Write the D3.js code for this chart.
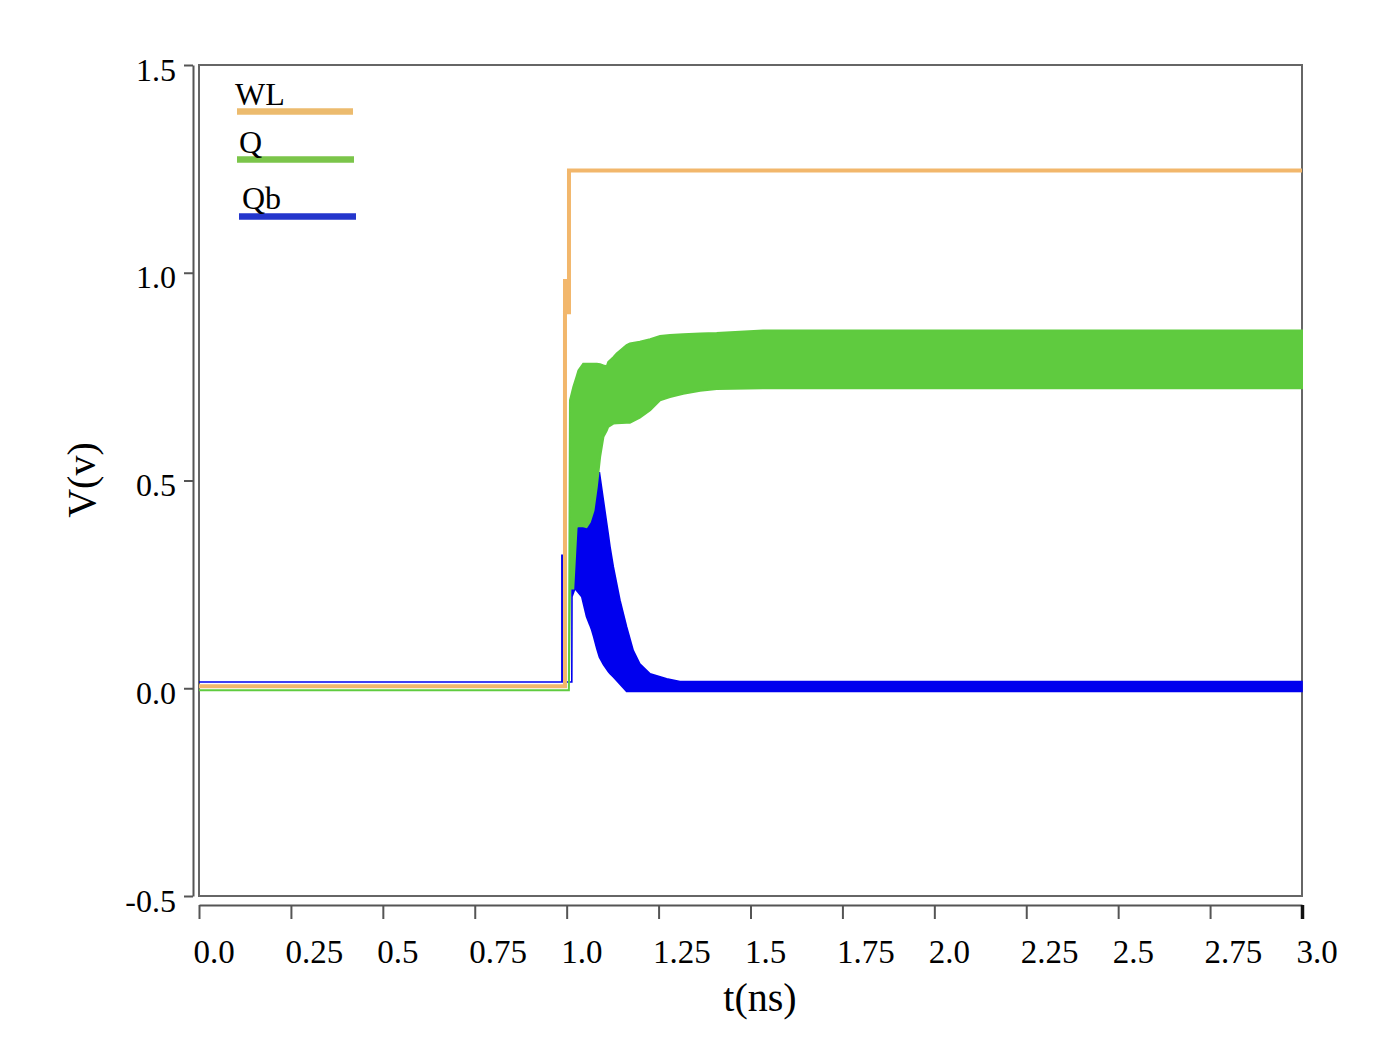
<!DOCTYPE html>
<html>
<head>
<meta charset="utf-8">
<script src="https://cdn.jsdelivr.net/npm/d3@7/dist/d3.min.js"></script>
<style>
  html, body { margin: 0; padding: 0; background: #fff; }
  svg { display: block; }
  text { font-family: "Liberation Serif", "Times New Roman", serif; fill: #000; }
</style>
</head>
<body>
<svg id="chart" width="1398" height="1060"></svg>
<script>
// ---------- data ----------
const xTickValues = [0, 0.25, 0.5, 0.75, 1.0, 1.25, 1.5, 1.75, 2.0, 2.25, 2.5, 2.75, 3.0];
const xTickLabels = ["0.0", "0.25", "0.5", "0.75", "1.0", "1.25", "1.5", "1.75", "2.0", "2.25", "2.5", "2.75", "3.0"];
const yTickValues = [-0.5, 0, 0.5, 1.0, 1.5];
const yTickLabels = ["-0.5", "0.0", "0.5", "1.0", "1.5"];
const seriesNames = ["WL", "Q", "Qb"];

// WL (word line) waveform
const tWL = [0, 0.9954, 0.9954, 0.9954, 1.0063, 1.0063, 3.0];
const vWL = [0.005, 0.005, 0.985, 0.905, 0.905, 1.246, 1.246];

// Q: envelope (lower / upper) of the fast-oscillating node voltage
const tQ = [0, 1.006, 1.009, 1.018, 1.027, 1.032, 1.045, 1.054, 1.063, 1.073, 1.082, 1.091, 1.100, 1.109, 1.113, 1.127, 1.136, 1.163, 1.172, 1.199, 1.227, 1.254, 1.281, 1.317, 1.363, 1.408, 1.534, 3.0];
const qLow = [-0.005, -0.005, 0.24, 0.24, 0.388, 0.39, 0.39, 0.388, 0.40, 0.428, 0.485, 0.557, 0.605, 0.62, 0.629, 0.637, 0.638, 0.639, 0.639, 0.651, 0.669, 0.693, 0.701, 0.709, 0.716, 0.72, 0.722, 0.722];
const qHigh = [-0.005, -0.005, 0.693, 0.725, 0.75, 0.765, 0.781, 0.781, 0.781, 0.781, 0.781, 0.78, 0.777, 0.775, 0.785, 0.797, 0.806, 0.826, 0.83, 0.834, 0.840, 0.848, 0.85, 0.852, 0.854, 0.855, 0.861, 0.861];

// Qb: envelope (lower / upper)
const tQb = [0, 0.987, 0.987, 0.9885, 0.9885, 1.0140, 1.0145, 1.0226, 1.041, 1.054, 1.063, 1.068, 1.073, 1.082, 1.089, 1.100, 1.113, 1.118, 1.127, 1.145, 1.163, 1.181, 1.199, 1.227, 1.272, 1.308, 3.0];
const qbLow = [0.015, 0.015, 0.015, 0.015, 0.015, 0.015, 0.22, 0.24, 0.22, 0.172, 0.152, 0.14, 0.125, 0.095, 0.075, 0.057, 0.04, 0.035, 0.027, 0.01, -0.008, -0.008, -0.008, -0.008, -0.008, -0.008, -0.008];
const qbHigh = [0.015, 0.015, 0.32, 0.32, 0.015, 0.015, 0.245, 0.40, 0.40, 0.40, 0.40, 0.41, 0.43, 0.48, 0.52, 0.452, 0.372, 0.34, 0.292, 0.212, 0.148, 0.091, 0.059, 0.035, 0.023, 0.016, 0.016];

// ---------- drawing ----------
const svg = d3.select("#chart");
const plotL = 199, plotR = 1302, plotT = 65, plotB = 896;

const x = d3.scaleLinear().domain([0, 3]).range([plotL, plotR]);
const y = d3.scaleLinear().domain([-0.5, 1.5]).range([plotB, plotT]);

const colors = { WL: "#f2b76c", Q: "#5fcb3f", Qb: "#0000ee" };
const legendColors = { WL: "#ecbb6e", Q: "#7bc54a", Qb: "#2436cc" };
const serif = '"Liberation Serif", "Times New Roman", serif';

// plot box
svg.append("rect")
  .attr("x", plotL).attr("y", plotT)
  .attr("width", plotR - plotL).attr("height", plotB - plotT)
  .attr("fill", "none").attr("stroke", "#666").attr("stroke-width", 2);

// Y axis
const yAxis = svg.append("g")
  .attr("transform", "translate(193,0)")
  .call(d3.axisLeft(y).tickValues(yTickValues).tickSize(9).tickSizeOuter(0)
    .tickFormat((d, i) => yTickLabels[i]));
yAxis.select(".domain").attr("stroke", "#555").attr("stroke-width", 2);
yAxis.selectAll(".tick line").attr("stroke", "#555").attr("stroke-width", 2);
yAxis.selectAll(".tick text")
  .attr("font-family", serif)
  .attr("font-size", 32).attr("fill", "#000")
  .attr("text-anchor", "end").attr("x", -17).attr("dy", null).attr("y", 15);

// X axis
const xAxis = svg.append("g")
  .attr("transform", "translate(0,905)")
  .call(d3.axisBottom(x).tickValues(xTickValues).tickSize(14).tickSizeOuter(0)
    .tickFormat((d, i) => xTickLabels[i]));
xAxis.select(".domain").attr("stroke", "#555").attr("stroke-width", 2);
xAxis.selectAll(".tick line").attr("stroke", "#555").attr("stroke-width", 2);
xAxis.selectAll(".tick").filter(d => d === 3.0).select("line")
  .attr("stroke", "#111").attr("stroke-width", 3.5);
xAxis.selectAll(".tick text")
  .attr("font-family", serif)
  .attr("font-size", 33).attr("fill", "#000")
  .attr("text-anchor", "start").attr("x", -6).attr("dy", null).attr("y", 58);

// axis titles
svg.append("text")
  .attr("transform", "translate(95,480) rotate(-90)")
  .attr("text-anchor", "middle")
  .attr("font-size", 40)
  .text("V(v)");
svg.append("text")
  .attr("x", 760).attr("y", 1011)
  .attr("text-anchor", "middle")
  .attr("font-size", 40)
  .text("t(ns)");

// series
const area = d3.area()
  .x(d => x(d.t)).y0(d => y(d.lo)).y1(d => y(d.hi));
const line = d3.line().x(d => x(d.t)).y(d => y(d.v));

const qbData = tQb.map((t, i) => ({ t, lo: qbLow[i], hi: qbHigh[i] }));
const qData = tQ.map((t, i) => ({ t, lo: qLow[i], hi: qHigh[i] }));
const wlData = tWL.map((t, i) => ({ t, v: vWL[i] }));

svg.append("path").datum(qbData)
  .attr("d", area)
  .attr("fill", colors.Qb).attr("stroke", colors.Qb)
  .attr("stroke-width", 1.6).attr("stroke-linejoin", "miter");

svg.append("path").datum(qData)
  .attr("d", area)
  .attr("fill", colors.Q).attr("stroke", colors.Q)
  .attr("stroke-width", 2).attr("stroke-linejoin", "miter");

svg.append("path").datum(wlData)
  .attr("d", line)
  .attr("fill", "none").attr("stroke", colors.WL)
  .attr("stroke-width", 4).attr("stroke-linejoin", "miter");

// legend
const legendRows = [
  { tx: 235, ty: 105, x1: 237, x2: 353, ly: 111.5 },
  { tx: 239, ty: 153, x1: 237, x2: 354, ly: 159.5 },
  { tx: 242, ty: 209, x1: 239, x2: 356, ly: 216.5 }
];
const lg = svg.append("g");
legendRows.forEach((r, i) => {
  lg.append("line")
    .attr("x1", r.x1).attr("x2", r.x2).attr("y1", r.ly).attr("y2", r.ly)
    .attr("stroke", legendColors[seriesNames[i]]).attr("stroke-width", 6.5);
  lg.append("text")
    .attr("x", r.tx).attr("y", r.ty)
    .attr("font-size", 32)
    .text(seriesNames[i]);
});
</script>
</body>
</html>
